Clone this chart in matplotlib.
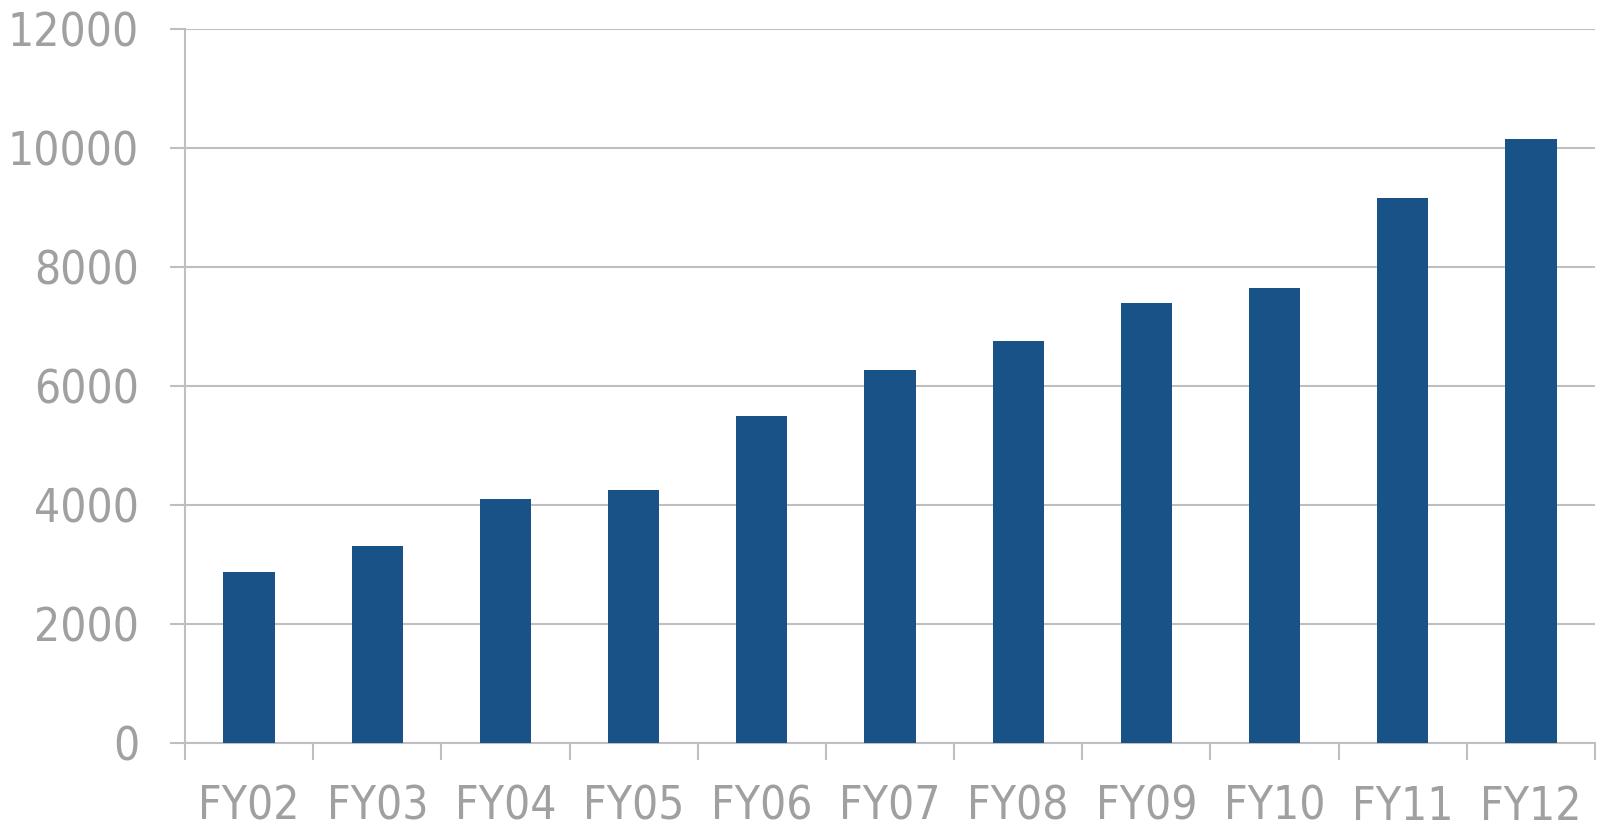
import matplotlib.pyplot as plt
import numpy as np

years = ['FY02', 'FY03', 'FY04', 'FY05', 'FY06', 'FY07',
         'FY08', 'FY09', 'FY10', 'FY11', 'FY12']
values = [2880, 3310, 4100, 4250, 5500, 6270, 6750, 7400, 7650, 9160, 10150]
yticks = [0, 2000, 4000, 6000, 8000, 10000, 12000]

grey_txt = '#a0a0a0'
grey_ln = '#bfbfbf'

plt.rcParams['font.family'] = 'DejaVu Sans'
plt.rcParams['font.stretch'] = 'condensed'

fig = plt.figure(figsize=(16.07, 8.31), dpi=100)
ax = fig.add_axes([185 / 1607, 88 / 831, 1410 / 1607, 714 / 831])

x = np.arange(len(years))
ax.bar(x, values, width=0.4, color='#195287', zorder=3)

ax.set_xlim(-0.5, len(years) - 0.5)
ax.set_ylim(0, 12000)
ax.set_yticks(yticks)
ax.set_yticklabels([str(v) for v in yticks])
ax.yaxis.grid(True, color=grey_ln, linewidth=1.5, zorder=0)

ax.set_xticks(x)
ax.set_xticklabels(years)
ax.set_xticks(np.arange(-0.5, len(years)), minor=True)

for s in ('top', 'right'):
    ax.spines[s].set_visible(False)
for s in ('left', 'bottom'):
    ax.spines[s].set_color(grey_ln)
    ax.spines[s].set_linewidth(1.5)

ax.tick_params(axis='y', length=11, width=1.5, color=grey_ln,
               labelsize=33, labelcolor=grey_txt, pad=22)
ax.tick_params(axis='x', which='major', length=0, labelsize=33,
               labelcolor=grey_txt, pad=30)
ax.tick_params(axis='x', which='minor', length=12, width=1.5, color=grey_ln)

fig.savefig('out.png', dpi=100)
